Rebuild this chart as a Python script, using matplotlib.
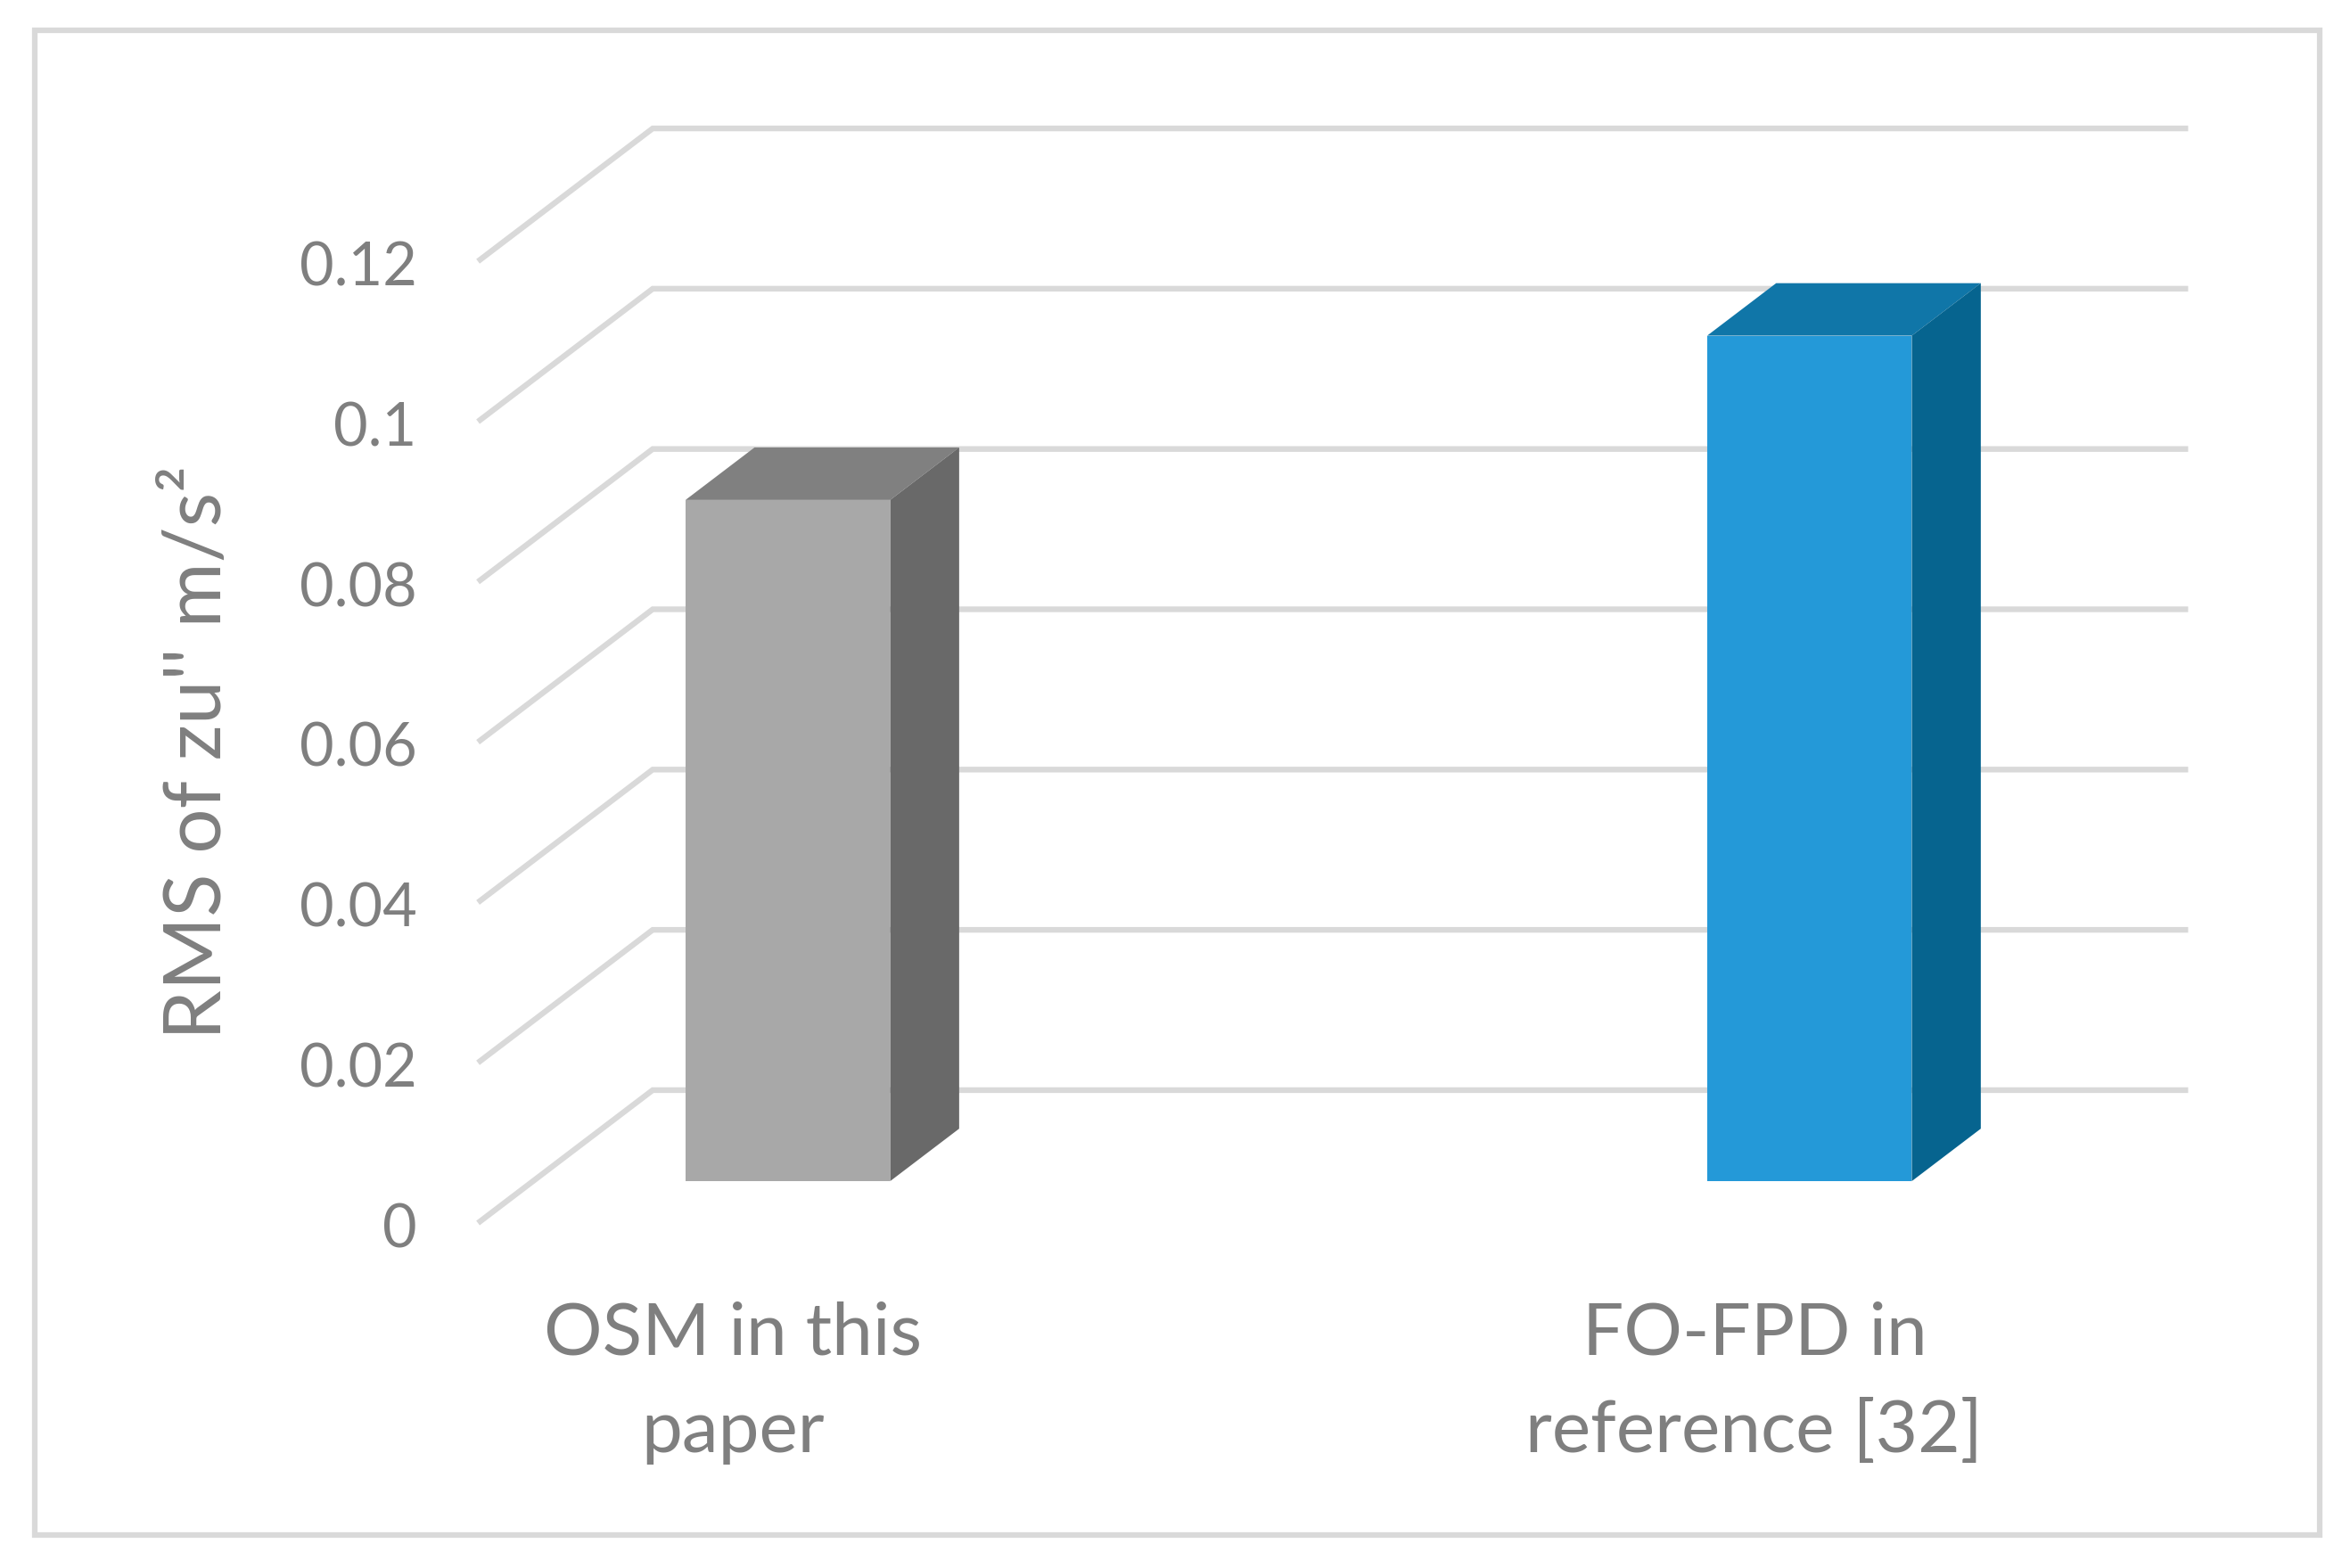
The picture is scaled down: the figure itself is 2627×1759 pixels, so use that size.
import matplotlib.pyplot as plt
import numpy as np
from matplotlib.patches import Rectangle

plt.rcParams['font.family'] = ['Lato', 'DejaVu Sans']

# Данные
categories = ['OSM in this\npaper', 'FO-FPD in\nreference [32]']
values = [0.085, 0.1055]
ticks = [0, 0.02, 0.04, 0.06, 0.08, 0.1, 0.12]
tick_labels = ['0', '0.02', '0.04', '0.06', '0.08', '0.1', '0.12']
front_colors = ['#a8a8a8', '#2499d8']
top_colors = ['#808080', '#1076a8']
side_colors = ['#696969', '#06648f']

GRAY = '#7f7f7f'
GRID = '#d9d9d9'

fig = plt.figure(figsize=(26.27, 17.59), dpi=100)
ax = fig.add_axes([0, 0, 1, 1])

# Масштаб осей (в пикселях уменьшенной картинки 1568x1050)
px_cat = 684.0
px_val = 644.0 / 0.12
x0 = 490.6
y0 = 819.0
ax.set_xlim((0 - x0) / px_cat, (1568 - x0) / px_cat)
ax.set_ylim((y0 - 1050) / px_val, y0 / px_val)
ax.axis('off')

# Сдвиг глубины для псевдо-3D
dx = 117.0 / px_cat
dy = 89.0 / px_val
half_width = 68.5 / px_cat
bar_near = 0.315
bar_far = 0.71
grid_end = (1465 - x0) / px_cat
grid_start = (320 - x0) / px_cat


def project(x, v, depth):
    return x + depth * dx, v + depth * dy


# Рамка
fig.patches.append(Rectangle((23 / 1568, 1 - 1028 / 1050), 1530 / 1568, 1008 / 1050,
                             transform=fig.transFigure, fill=False,
                             edgecolor=GRID, linewidth=4.5))

# Сетка
for t, label in zip(ticks, tick_labels):
    xa, ya = project(grid_start, t, 0)
    xb, yb = project(grid_start, t, 1)
    ax.plot([xa, xb, grid_end], [ya, yb, yb], color=GRID, linewidth=4.6,
            solid_joinstyle='miter', solid_capstyle='butt', zorder=1)
    ax.text((279 - x0) / px_cat, t - 5 / px_val, label, ha='right', va='center',
            fontsize=48, color=GRAY)

# Столбцы
for i, v in enumerate(values):
    left = i - half_width
    right = i + half_width
    fl = project(left, 0, bar_near)
    fr = project(right, 0, bar_near)
    tl = project(left, v, bar_near)
    tr = project(right, v, bar_near)
    bl = project(left, v, bar_far)
    br = project(right, v, bar_far)
    rb = project(right, 0, bar_far)
    ax.fill(*zip(tl, tr, br, bl), color=top_colors[i], linewidth=0, zorder=3)
    ax.fill(*zip(fr, tr, br, rb), color=side_colors[i], linewidth=0, zorder=3)
    ax.fill(*zip(fl, fr, tr, tl), color=front_colors[i], linewidth=0, zorder=4)

# Подписи
for i, c in enumerate(categories):
    ax.text(i, (y0 - 926) / px_val, c, ha='center', va='center', fontsize=59,
            color=GRAY, linespacing=1.6)

ax.text((133 - x0) / px_cat, (y0 - 504) / px_val, "RMS of zu'' m/s²", rotation=90,
        ha='center', va='center', fontsize=64, color=GRAY)

fig.savefig('out.png', dpi=100)
